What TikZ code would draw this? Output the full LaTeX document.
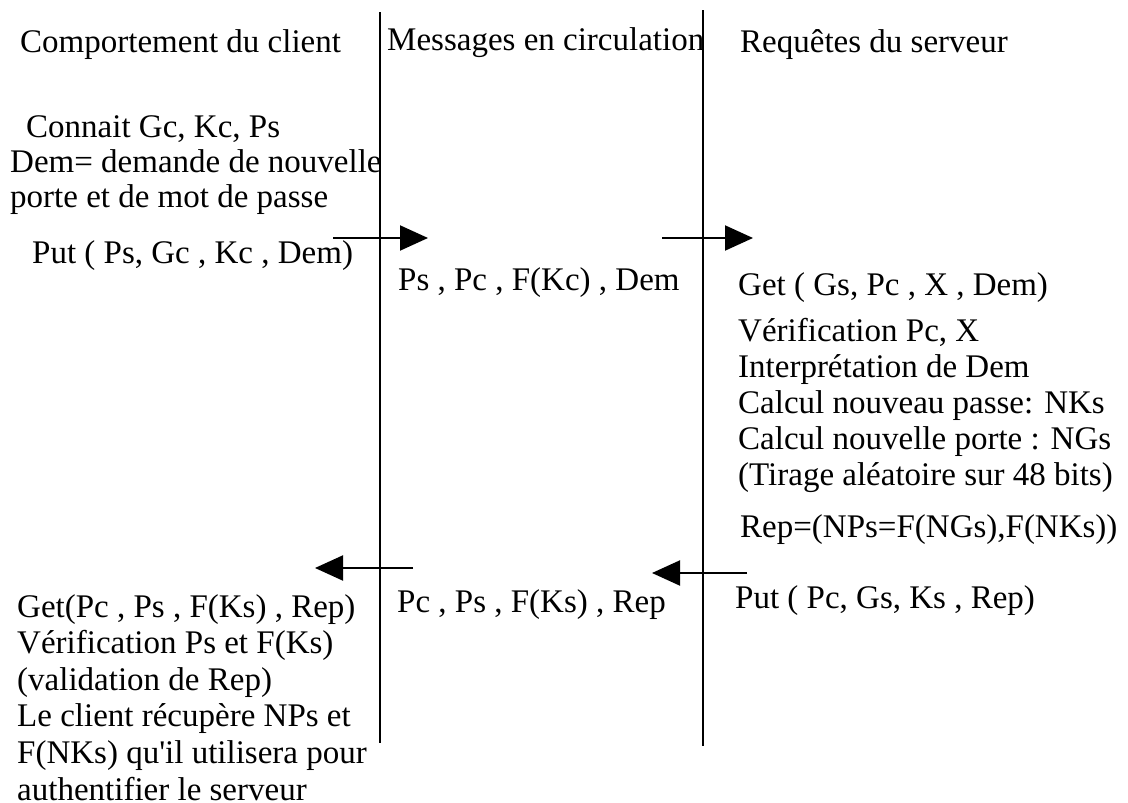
\documentclass[tikz,border=0pt]{standalone}
\usepackage{fontspec}
\setmainfont{Liberation Serif}
\usetikzlibrary{arrows.meta}
\begin{document}
\begin{tikzpicture}[x=1pt,y=-1pt,
  txt/.style={anchor=base west,inner sep=0pt,align=left,
    font=\fontsize{33}{36}\selectfont},
  lifeline/.style={line width=2pt},
  msg/.style={line width=2pt,-{Triangle[length=28pt,width=25pt]}}]
\useasboundingbox (0,0) rectangle (1128,803);

% headers
\node[txt] (hclient) at (20,52) {Comportement du client};
\node[txt] (hmsg) at (387,50) {Messages en circulation};
\node[txt] (hserv) at (740,52) {Requêtes du serveur};

% lifelines
\coordinate (l1top) at (380,12);
\coordinate (l1bot) at (380,743);
\coordinate (l2top) at (703,10);
\coordinate (l2bot) at (703,746);
\draw[lifeline] (l1top) -- (l1bot);
\draw[lifeline] (l2top) -- (l2bot);

% client request (multi-line nodes sit on the baseline of their last line)
\node[txt] (connait) at (26,137) {Connait Gc, Kc, Ps};
\node[txt,font=\fontsize{33}{35}\selectfont] (dem) at (10,207)
  {Dem= demande de nouvelle\\porte et de mot de passe};
\node[txt] (put1) at (32,263) {Put ( Ps, Gc , Kc , Dem)};

\coordinate (a1s) at (333,238);
\coordinate (a1e) at (428,238);
\coordinate (a2s) at (662,238);
\coordinate (a2e) at (753,238);
\draw[msg] (a1s) -- (a1e);
\draw[msg] (a2s) -- (a2e);

\node[txt] (m1) at (398,290) {Ps , Pc , F(Kc) , Dem};

% server side
\node[txt] (get1) at (738,295) {Get ( Gs, Pc , X , Dem)};
\node[txt] (trait) at (738,485)
  {Vérification Pc, X\\Interprétation de Dem\\Calcul nouveau passe: NKs\\Calcul nouvelle porte : NGs\\(Tirage aléatoire sur 48 bits)};
\node[txt] (rep) at (740,537) {Rep=(NPs=F(NGs),F(NKs))};
\node[txt] (put2) at (735,608) {Put ( Pc, Gs, Ks , Rep)};

% reply
\coordinate (a3s) at (413,568);
\coordinate (a3e) at (315,568);
\coordinate (a4s) at (747,573);
\coordinate (a4e) at (652,573);
\draw[msg] (a3s) -- (a3e);
\draw[msg] (a4s) -- (a4e);

\node[txt] (m2) at (397,612) {Pc , Ps , F(Ks) , Rep};

% client reception
\node[txt,font=\fontsize{33}{36.6}\selectfont] (get2) at (17,800)
  {Get(Pc , Ps , F(Ks) , Rep)\\Vérification Ps et F(Ks)\\(validation de Rep)\\Le client récupère NPs et\\F(NKs) qu\textquotesingle il utilisera pour\\authentifier le serveur};
\end{tikzpicture}
\end{document}
